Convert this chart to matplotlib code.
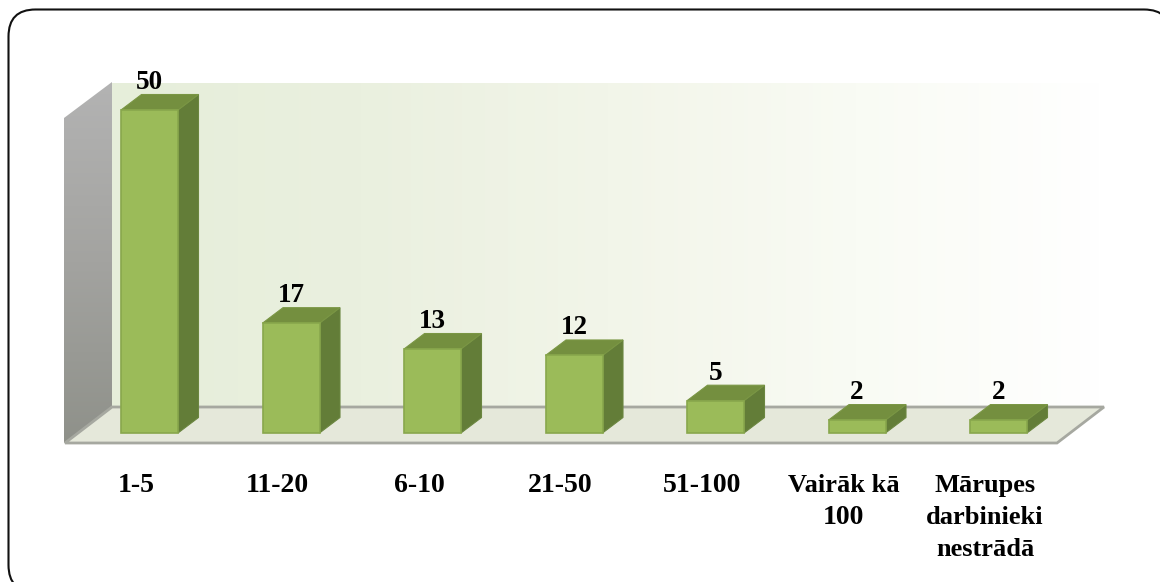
import numpy as np
import matplotlib
matplotlib.use("Agg")
import matplotlib.pyplot as plt
from matplotlib.patches import Polygon, Rectangle, FancyBboxPatch
from matplotlib.colors import LinearSegmentedColormap
from matplotlib.transforms import IdentityTransform

categories = ['1-5', '11-20', '6-10', '21-50', '51-100', 'Vairāk kā\n100', 'Mārupes\ndarbinieki\nnestrādā']
values = [50, 17, 13, 12, 5, 2, 2]

W, H = 1160, 582
x_step = 141.5      # px per category
y_step = 6.46       # px per value unit
x0_px = 149.5       # centre of first bar
y0_px = 433         # bar baseline

plt.rcParams['font.family'] = ['Liberation Serif', 'DejaVu Serif']

fig = plt.figure(figsize=(W / 100, H / 100), dpi=100)
ax = fig.add_axes([0, 0, 1, 1])
ax.set_xlim(-x0_px / x_step, (W - x0_px) / x_step)
ax.set_ylim(-(H - y0_px) / y_step, y0_px / y_step)
ax.axis('off')


# helpers: pixel lengths -> data units
def px_x(p):
    return p / x_step


def px_y(p):
    return p / y_step


def pt(px, py):
    # absolute picture pixel -> data coords, only for chart frame and walls
    return (px - x0_px) / x_step, (y0_px - py) / y_step


# rounded outer frame, right and bottom sides run off the picture
frame = FancyBboxPatch((8.5, H - 592), 1171 - 8.5, 592 - 9.5,
                       boxstyle='round,pad=0,rounding_size=27',
                       transform=IdentityTransform(), fc='white', ec='#111111', lw=1.5, zorder=0)
ax.add_patch(frame)

# back wall with gradient fading to white
wall_cmap = LinearSegmentedColormap.from_list('wall', ['#e6eeda', '#eaf0df', '#f2f5e9', '#f9fbf4', '#ffffff'])
l, b = pt(112, 407)
r, t = pt(1105, 83)
ax.imshow(np.linspace(0, 1, 256).reshape(1, -1), cmap=wall_cmap, extent=[l, r, b, t],
          aspect='auto', zorder=1, interpolation='bilinear')

# side wall, gray gradient
side_cmap = LinearSegmentedColormap.from_list('side', ['#b3b3b3', '#a3a3a0', '#8f918a'])
side = Polygon([pt(64, 118), pt(112, 82), pt(112, 407), pt(64, 443)], closed=True, fc='none', ec='none', zorder=2)
ax.add_patch(side)
l2, b2 = pt(64, 443)
r2, t2 = pt(112, 82)
im = ax.imshow(np.linspace(0, 1, 256).reshape(-1, 1), cmap=side_cmap, extent=[l2, r2, b2, t2],
               aspect='auto', zorder=2, interpolation='bilinear')
im.set_clip_path(side)

# floor
ax.add_patch(Polygon([pt(65, 443), pt(112, 407), pt(1104, 407), pt(1057, 443)], closed=True,
                     fc='#e5e8da', ec='#a6a8a0', lw=2, zorder=3, joinstyle='miter'))

# bars
bar_w = px_x(57)
dx = px_x(20.5)
dy = px_y(15.5)
for i, v in enumerate(values):
    left = i - bar_w / 2
    right = i + bar_w / 2
    ax.add_patch(Polygon([(right, 0), (right + dx, dy), (right + dx, v + dy), (right, v)], closed=True,
                         fc='#637d38', ec='#6b8640', lw=0.8, zorder=4))
    ax.add_patch(Polygon([(left, v), (left + dx, v + dy), (right + dx, v + dy), (right, v)], closed=True,
                         fc='#748f3f', ec='#7a9644', lw=0.8, zorder=4))
    ax.add_patch(Rectangle((left, 0), bar_w, v, fc='#9bbb59', ec='#88a74c', lw=1.2, zorder=5))
    ax.text(i, v + px_y(21), str(v), ha='center', va='baseline', fontsize=19.5, fontweight='bold',
            color='black', zorder=6)

# category labels
for i, c in enumerate(categories):
    for j, line in enumerate(c.split('\n')):
        size = 20 if line[0].isdigit() else 19
        ax.text(i + px_x(-13.5), -px_y(59 + 32 * j), line, ha='center', va='baseline', fontsize=size,
                fontweight='bold', color='black', zorder=6)

fig.savefig('out.png', dpi=100)
